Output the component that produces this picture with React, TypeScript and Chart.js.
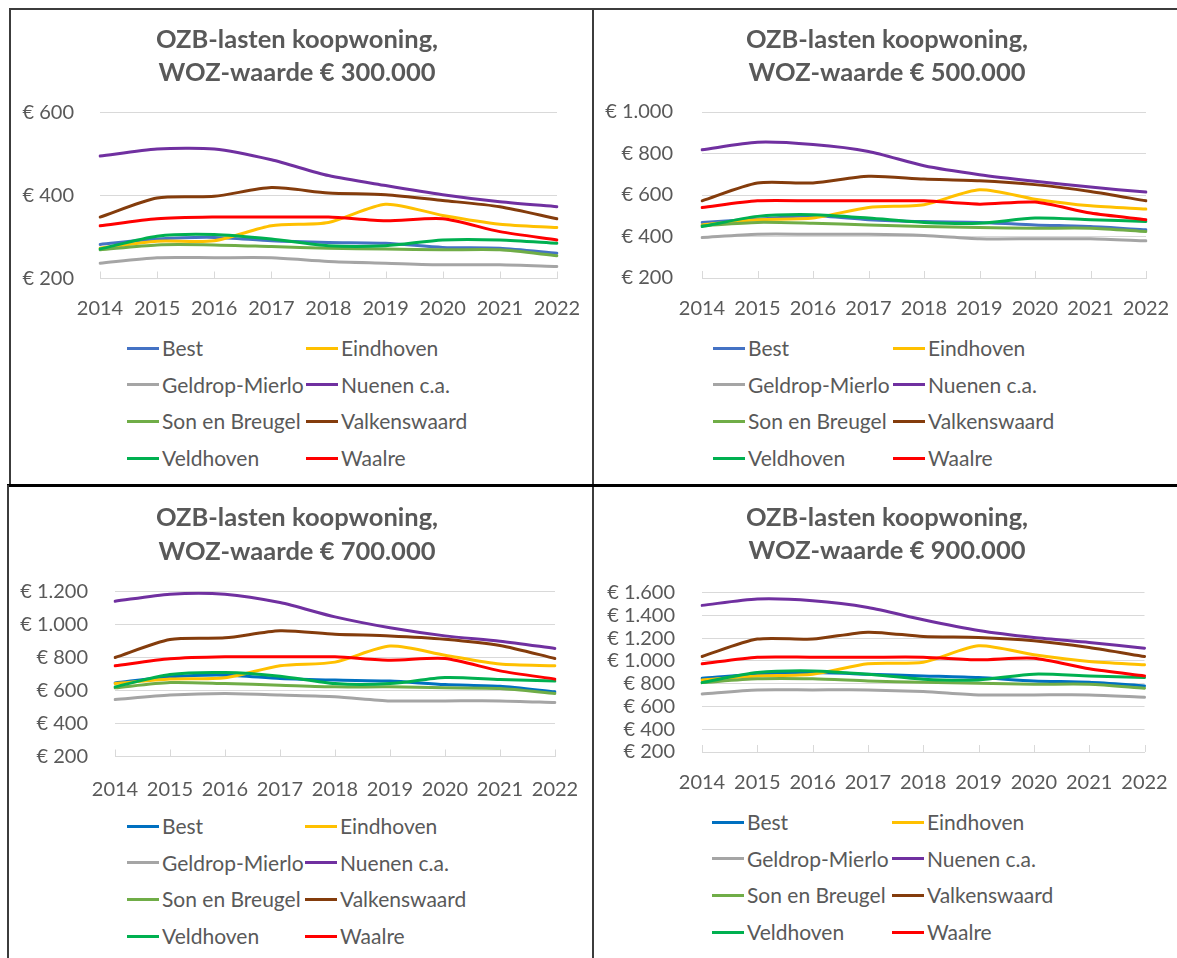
import React, { useEffect, useRef } from "react";
import { Chart, registerables } from "chart.js";

Chart.register(...registerables);

// ---------- DATA ----------
const years = ["2014", "2015", "2016", "2017", "2018", "2019", "2020", "2021", "2022"];

const gemeenten = [
  "Best",
  "Eindhoven",
  "Geldrop-Mierlo",
  "Nuenen c.a.",
  "Son en Breugel",
  "Valkenswaard",
  "Veldhoven",
  "Waalre",
];

// OZB-lasten, WOZ-waarde € 300.000 (order = gemeenten)
const woz300Best = [282, 295, 299, 291, 287, 285, 275, 273, 261];
const woz300Eindhoven = [273, 290, 291, 327, 335, 379, 352, 331, 323];
const woz300Geldrop = [237, 250, 250, 250, 241, 237, 233, 233, 229];
const woz300Nuenen = [495, 512, 512, 486, 448, 424, 402, 385, 373];
const woz300Son = [269, 281, 281, 277, 273, 271, 269, 269, 255];
const woz300Valkenswaard = [348, 394, 398, 419, 406, 402, 388, 373, 344];
const woz300Veldhoven = [271, 302, 306, 295, 279, 279, 293, 293, 285];
const woz300Waalre = [327, 344, 348, 348, 348, 339, 344, 313, 293];

// WOZ-waarde € 500.000
const woz500Best = [468, 484, 500, 481, 472, 468, 456, 448, 432];
const woz500Eindhoven = [456, 481, 489, 540, 553, 625, 580, 548, 532];
const woz500Geldrop = [395, 411, 411, 411, 405, 389, 389, 389, 379];
const woz500Nuenen = [818, 854, 843, 810, 741, 698, 666, 638, 614];
const woz500Son = [452, 468, 464, 456, 448, 443, 440, 440, 424];
const woz500Valkenswaard = [572, 658, 658, 690, 677, 669, 650, 617, 572];
const woz500Veldhoven = [448, 497, 505, 489, 468, 464, 489, 481, 472];
const woz500Waalre = [540, 572, 572, 572, 572, 556, 566, 513, 481];

// WOZ-waarde € 700.000
const woz700Best = [646, 683, 693, 673, 663, 657, 636, 626, 592];
const woz700Eindhoven = [642, 669, 677, 750, 772, 869, 814, 760, 750];
const woz700Geldrop = [545, 572, 582, 572, 562, 537, 537, 537, 527];
const woz700Nuenen = [1141, 1184, 1184, 1133, 1046, 980, 931, 899, 855];
const woz700Son = [616, 648, 642, 632, 622, 622, 616, 612, 582];
const woz700Valkenswaard = [800, 909, 919, 962, 941, 931, 911, 873, 794];
const woz700Veldhoven = [622, 697, 709, 687, 642, 642, 679, 667, 657];
const woz700Waalre = [750, 792, 804, 804, 804, 784, 794, 719, 669];

// WOZ-waarde € 900.000
const woz900Best = [847, 883, 897, 883, 868, 853, 824, 812, 780];
const woz900Eindhoven = [833, 868, 883, 974, 988, 1132, 1053, 994, 965];
const woz900Geldrop = [710, 745, 745, 745, 730, 701, 701, 701, 680];
const woz900Nuenen = [1487, 1543, 1528, 1469, 1361, 1267, 1205, 1161, 1111];
const woz900Son = [809, 842, 842, 824, 812, 803, 795, 795, 760];
const woz900Valkenswaard = [1038, 1191, 1191, 1252, 1214, 1205, 1176, 1117, 1038];
const woz900Veldhoven = [809, 897, 912, 883, 839, 833, 883, 868, 853];
const woz900Waalre = [974, 1032, 1032, 1032, 1032, 1009, 1023, 930, 868];

const woz300 = [woz300Best, woz300Eindhoven, woz300Geldrop, woz300Nuenen, woz300Son, woz300Valkenswaard, woz300Veldhoven, woz300Waalre];
const woz500 = [woz500Best, woz500Eindhoven, woz500Geldrop, woz500Nuenen, woz500Son, woz500Valkenswaard, woz500Veldhoven, woz500Waalre];
const woz700 = [woz700Best, woz700Eindhoven, woz700Geldrop, woz700Nuenen, woz700Son, woz700Valkenswaard, woz700Veldhoven, woz700Waalre];
const woz900 = [woz900Best, woz900Eindhoven, woz900Geldrop, woz900Nuenen, woz900Son, woz900Valkenswaard, woz900Veldhoven, woz900Waalre];

const titles300 = ["OZB-lasten koopwoning,", "WOZ-waarde € 300.000"];
const titles500 = ["OZB-lasten koopwoning,", "WOZ-waarde € 500.000"];
const titles700 = ["OZB-lasten koopwoning,", "WOZ-waarde € 700.000"];
const titles900 = ["OZB-lasten koopwoning,", "WOZ-waarde € 900.000"];

const yMin = 200;
const yStep = 200;
const yMax300 = 600;
const yMax500 = 1000;
const yMax700 = 1200;
const yMax900 = 1600;

// ---------- STYLE ----------
const FONT = "Lato, 'Open Sans', 'Noto Sans', sans-serif";
const TEXT = "#595959";
const GRID = "#d9d9d9";
const colorsTop = ["#4472C4", "#FFC000", "#A5A5A5", "#7030A0", "#70AD47", "#843C0C", "#00B050", "#FF0000"];
const colorsBottom = ["#0070C0", "#FFC000", "#A5A5A5", "#7030A0", "#70AD47", "#843C0C", "#00B050", "#FF0000"];

type Layout = {
  canvas: { l: number; t: number; w: number; h: number };
  plot: { l: number; r: number; t: number; b: number };
  titleY: number;
  titleLH: number;
  labelRight: number;
  xLabelY: number;
  legend: { x1: number; x2: number; y0: number; dy: number };
};

const fmt = (v: number) => "€ " + String(v).replace(/\B(?=(\d{3})+(?!\d))/g, ".");

const innerTicks = {
  id: "innerTicks",
  beforeDatasetsDraw(chart: any) {
    const x = chart.scales.x;
    const ctx = chart.ctx;
    const b = chart.chartArea.bottom;
    ctx.save();
    ctx.strokeStyle = GRID;
    ctx.lineWidth = 1;
    x.ticks.forEach((_: any, i: number) => {
      const px = Math.round(x.getPixelForTick(i)) + 0.5;
      ctx.beginPath();
      ctx.moveTo(px, b);
      ctx.lineTo(px, b - 7);
      ctx.stroke();
    });
    ctx.restore();
  },
};

function Panel(props: {
  titles: string[];
  series: number[][];
  yMax: number;
  colors: string[];
  lay: Layout;
}) {
  const ref = useRef<HTMLCanvasElement | null>(null);
  const { lay } = props;
  useEffect(() => {
    if (!ref.current) return;
    const c = lay.canvas;
    const rightGap = c.l + c.w - lay.plot.r;
    const yWidth = lay.plot.l - c.l;
    const xHeight = c.t + c.h - lay.plot.b;
    const tSize = 25.5;
    const tPadTop = lay.titleY - c.t - lay.titleLH / 2;
    const tPadBottom = lay.plot.t - c.t - tPadTop - 2 * lay.titleLH;
    const tickSize = 20;
    const xPad = lay.xLabelY - lay.plot.b - (tickSize * 1.2) / 2;
    const n = props.series.length;
    const chart = new Chart(ref.current, {
      type: "line",
      data: {
        labels: years,
        datasets: props.series.map((s, i) => ({
          label: gemeenten[i],
          data: s,
          borderColor: props.colors[i],
          backgroundColor: props.colors[i],
          borderWidth: 3,
          pointRadius: 0,
          tension: 0.25,
          borderCapStyle: "round" as const,
          borderJoinStyle: "round" as const,
          order: n - i,
        })),
      },
      options: {
        animation: false,
        responsive: false,
        events: [],
        layout: { padding: 0 },
        plugins: {
          legend: { display: false },
          tooltip: { enabled: false },
          title: {
            display: true,
            text: props.titles,
            color: TEXT,
            font: { family: FONT, size: tSize, weight: "bold", lineHeight: lay.titleLH / tSize },
            padding: { top: tPadTop, bottom: tPadBottom },
          },
        },
        scales: {
          x: {
            offset: false,
            grid: { display: false, drawTicks: false },
            border: { display: true, color: GRID, width: 1 },
            ticks: {
              color: TEXT,
              font: { family: FONT, size: tickSize },
              padding: xPad,
              autoSkip: false,
              maxRotation: 0,
              minRotation: 0,
            },
            afterFit: (s: any) => {
              s.height = xHeight;
              s.paddingLeft = 0;
              s.paddingRight = rightGap;
            },
          },
          y: {
            min: yMin,
            max: props.yMax,
            grid: { color: GRID, lineWidth: 1, drawTicks: false },
            border: { display: false },
            ticks: {
              stepSize: yStep,
              autoSkip: false,
              color: TEXT,
              font: { family: FONT, size: tickSize },
              padding: lay.plot.l - lay.labelRight,
              callback: (v: any) => fmt(Number(v)),
            },
            afterFit: (s: any) => {
              s.width = yWidth;
            },
          },
        },
      },
      plugins: [innerTicks],
    } as any);
    return () => chart.destroy();
  }, []);

  const c = lay.canvas;
  return (
    <>
      <canvas
        ref={ref}
        width={c.w}
        height={c.h}
        style={{ position: "absolute", left: c.l, top: c.t, width: c.w, height: c.h }}
      />
      {gemeenten.map((g, i) => {
        const col = i % 2;
        const row = Math.floor(i / 2);
        const x = col === 0 ? lay.legend.x1 : lay.legend.x2;
        const y = lay.legend.y0 + row * lay.legend.dy;
        return (
          <React.Fragment key={g}>
            <div
              style={{
                position: "absolute",
                left: x,
                top: y - 1.5,
                width: 32,
                height: 3,
                background: props.colors[i],
              }}
            />
            <div
              style={{
                position: "absolute",
                left: x + 35,
                top: y - 13,
                height: 26,
                lineHeight: "26px",
                fontFamily: FONT,
                fontSize: 21,
                color: TEXT,
                whiteSpace: "nowrap",
              }}
            >
              {g}
            </div>
          </React.Fragment>
        );
      })}
    </>
  );
}

// canvas width chosen so that the canvas centre equals the title centre
const layout1: Layout = {
  canvas: { l: 11, t: 10, w: 572, h: 320 },
  plot: { l: 100, r: 557, t: 112.5, b: 278.5 },
  titleY: 40,
  titleLH: 33,
  labelRight: 74,
  xLabelY: 309,
  legend: { x1: 127, x2: 306, y0: 348, dy: 36.7 },
};
const layout2: Layout = {
  canvas: { l: 596, t: 10, w: 582, h: 320 },
  plot: { l: 702, r: 1146, t: 112, b: 278 },
  titleY: 40,
  titleLH: 33,
  labelRight: 673,
  xLabelY: 309,
  legend: { x1: 713, x2: 893, y0: 348, dy: 36.7 },
};
const layout3: Layout = {
  canvas: { l: 9, t: 488, w: 576, h: 320 },
  plot: { l: 115, r: 555, t: 591.5, b: 756.5 },
  titleY: 518,
  titleLH: 34,
  labelRight: 88,
  xLabelY: 790,
  legend: { x1: 127, x2: 305, y0: 826, dy: 36.7 },
};
const layout4: Layout = {
  canvas: { l: 596, t: 488, w: 582, h: 320 },
  plot: { l: 702, r: 1144.5, t: 592.5, b: 752 },
  titleY: 518,
  titleLH: 33,
  labelRight: 675,
  xLabelY: 783,
  legend: { x1: 712, x2: 892, y0: 822, dy: 36.7 },
};

export default function App() {
  const line = (l: number, t: number, w: number, h: number, bg: string) => (
    <div style={{ position: "absolute", left: l, top: t, width: w, height: h, background: bg }} />
  );
  return (
    <div
      style={{
        position: "fixed",
        left: 0,
        top: 0,
        width: 1177,
        height: 958,
        background: "#ffffff",
        overflow: "hidden",
      }}
    >
      <Panel titles={titles300} series={woz300} yMax={yMax300} colors={colorsTop} lay={layout1} />
      <Panel titles={titles500} series={woz500} yMax={yMax500} colors={colorsTop} lay={layout2} />
      <Panel titles={titles700} series={woz700} yMax={yMax700} colors={colorsBottom} lay={layout3} />
      <Panel titles={titles900} series={woz900} yMax={yMax900} colors={colorsBottom} lay={layout4} />
      {line(9, 8, 1168, 2, "#3c3c3c")}
      {line(9, 8, 2, 477, "#3c3c3c")}
      {line(592, 8, 2, 950, "#3c3c3c")}
      {line(7, 484, 1170, 3, "#000000")}
      {line(7, 485, 2, 473, "#3c3c3c")}
    </div>
  );
}
